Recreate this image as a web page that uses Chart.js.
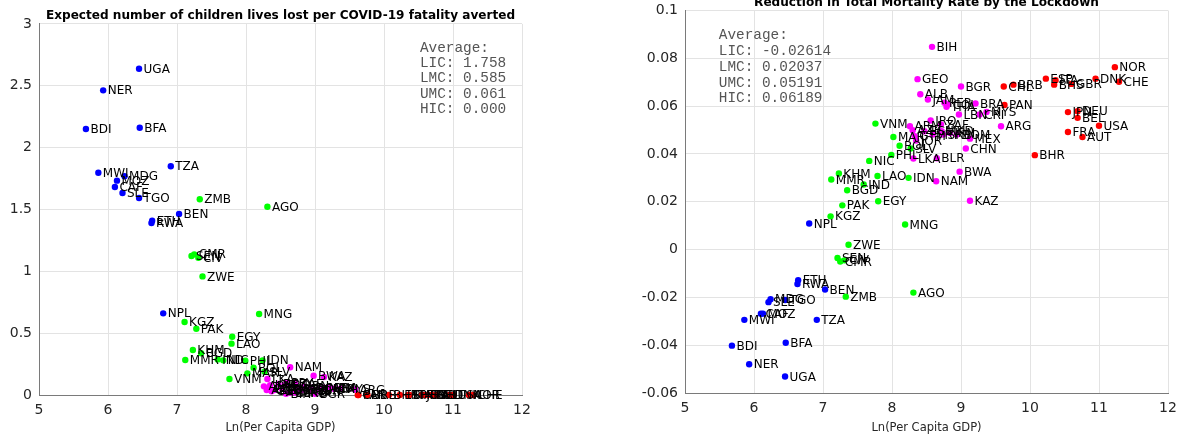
<!DOCTYPE html>
<html>
<head>
<meta charset="utf-8">
<script src="https://cdn.jsdelivr.net/npm/chart.js@4.4.1/dist/chart.umd.min.js"></script>
<style>
  body { margin: 0; background: #fff; width: 1185px; height: 436px; overflow: hidden; position: relative; }
  .panel { position: absolute; }
  #panel-hijos { left: 0; top: 0; width: 545px; height: 436px; }
  #panel-mortalidad { left: 600px; top: -5px; width: 585px; height: 441px; }
</style>
</head>
<body>
<div class="panel" id="panel-hijos"><canvas id="grafica-hijos" width="545" height="436"></canvas></div>
<div class="panel" id="panel-mortalidad"><canvas id="grafica-mortalidad" width="585" height="441"></canvas></div>
<script>
// Datos: código de país, ln(PIB per cápita),
// niños perdidos por muerte COVID evitada, reducción de mortalidad total
const licCodigos = ['UGA','NER','BDI','BFA','TZA','MWI','MDG','MOZ','CAF','SLE','TGO','BEN','ETH','RWA','NPL'];
const licPib     = [6.45, 5.93, 5.68, 6.46, 6.91, 5.86, 6.24, 6.13, 6.10, 6.21, 6.45, 7.03, 6.64, 6.63, 6.80];
const licHijos   = [2.638, 2.463, 2.150, 2.161, 1.849, 1.797, 1.768, 1.733, 1.682, 1.633, 1.593, 1.463, 1.409, 1.390, 0.660];
const licMort    = [-0.0531, -0.0480, -0.0402, -0.0390, -0.0294, -0.0294, -0.0208, -0.0268, -0.0268, -0.0220, -0.0211, -0.0167, -0.0128, -0.0144, 0.0109];

const lmcCodigos = ['AGO','ZMB','SEN','CIV','CMR','ZWE','MNG','KGZ','PAK','EGY','LAO','KHM','BGD','MMR','IND','NIC','PHL','IDN','BOL','SLV','MAR','VNM'];
const lmcPib     = [8.31, 7.33, 7.21, 7.31, 7.25, 7.37, 8.19, 7.11, 7.28, 7.80, 7.79, 7.23, 7.35, 7.12, 7.59, 7.67, 7.99, 8.24, 8.11, 8.27, 8.02, 7.76];
const lmcHijos   = [1.522, 1.582, 1.124, 1.110, 1.137, 0.959, 0.655, 0.590, 0.536, 0.471, 0.415, 0.364, 0.337, 0.283, 0.288, 0.280, 0.277, 0.280, 0.221, 0.188, 0.175, 0.129];
const lmcMort    = [-0.0180, -0.0197, -0.0035, -0.0045, -0.0050, 0.0020, 0.0105, 0.0139, 0.0185, 0.0202, 0.0308, 0.0318, 0.0248, 0.0293, 0.0272, 0.0371, 0.0396, 0.0300, 0.0434, 0.0423, 0.0471, 0.0527];

const umcCodigos = ['BIH','GEO','BGR','ALB','JAM','PER','COL','THA','BRA','MYS','CRI','LBN','IRQ','ZAF','ARG','DOM','MEX','CHN','BLR','LKA','BWA','NAM','KAZ','ARM','AZE','JOR','ECU','PRY','SRB','MKD','IRN','GTM'];
const umcPib     = [8.58, 8.37, 9.00, 8.41, 8.52, 8.76, 8.81, 8.79, 9.21, 9.37, 9.27, 8.97, 8.56, 8.71, 9.58, 8.94, 9.13, 9.07, 8.65, 8.31, 8.98, 8.64, 9.13, 8.26, 8.30, 8.35, 8.47, 8.59, 8.74, 8.72, 8.84, 8.33];
const umcHijos   = [0.010, 0.030, 0.010, 0.040, 0.050, 0.050, 0.040, 0.040, 0.060, 0.050, 0.050, 0.030, 0.080, 0.090, 0.045, 0.060, 0.060, 0.050, 0.020, 0.129, 0.156, 0.224, 0.146, 0.070, 0.040, 0.080, 0.090, 0.100, 0.030, 0.020, 0.070, 0.050];
const umcMort    = [0.0848, 0.0713, 0.0682, 0.0650, 0.0628, 0.0614, 0.0607, 0.0597, 0.0611, 0.0576, 0.0565, 0.0565, 0.0540, 0.0523, 0.0516, 0.0481, 0.0464, 0.0423, 0.0382, 0.0381, 0.0326, 0.0286, 0.0204, 0.0516, 0.0499, 0.0456, 0.0495, 0.0481, 0.0481, 0.0495, 0.0488, 0.0474];

const hicCodigos = ['CHL','BRB','PAN','BHR','ESP','ITA','BHS','GBR','DNK','NOR','CHE','JPN','DEU','BEL','USA','FRA','AUT'];
const hicPib     = [9.62, 9.76, 9.63, 10.07, 10.23, 10.37, 10.35, 10.60, 10.95, 11.23, 11.29, 10.55, 10.69, 10.69, 11.00, 10.55, 10.76];
const hicHijos   = [0, 0, 0, 0, 0, 0, 0, 0, 0, 0, 0, 0, 0, 0, 0, 0, 0];
const hicMort    = [0.0682, 0.0690, 0.0605, 0.0395, 0.0715, 0.0708, 0.0690, 0.0693, 0.0715, 0.0763, 0.0702, 0.0575, 0.0579, 0.0551, 0.0518, 0.0492, 0.0471];

const promediosHijos = ['Average:', 'LIC: 1.758', 'LMC: 0.585', 'UMC: 0.061', 'HIC: 0.000'];
const promediosMort  = ['Average:', 'LIC: -0.02614', 'LMC: 0.02037', 'UMC: 0.05191', 'HIC: 0.06189'];

const xTicks = [5, 6, 7, 8, 9, 10, 11, 12];

const grupos = [
    { codigos: licCodigos, pib: licPib, hijos: licHijos, mort: licMort, color: '#0000ff' },
    { codigos: lmcCodigos, pib: lmcPib, hijos: lmcHijos, mort: lmcMort, color: '#00ff00' },
    { codigos: umcCodigos, pib: umcPib, hijos: umcHijos, mort: umcMort, color: '#ff00ff' },
    { codigos: hicCodigos, pib: hicPib, hijos: hicHijos, mort: hicMort, color: '#ff0000' }
];

const colorTexto = '#262626';
const colorRejilla = '#e3e3e3';
const colorEje = '#7a7a7a';

// Etiquetas de país junto a cada punto
const etiquetasPais = {
    id: 'etiquetasPais',
    afterDatasetsDraw(chart) {
        const ctx = chart.ctx;
        ctx.save();
        ctx.font = '12px "DejaVu Sans"';
        ctx.fillStyle = '#000';
        ctx.textAlign = 'left';
        ctx.textBaseline = 'middle';
        chart.data.datasets.forEach((ds, i) => {
            const meta = chart.getDatasetMeta(i);
            meta.data.forEach((pt, j) => {
                ctx.fillText(ds.codigos[j], pt.x + 4.5, pt.y + 1);
            });
        });
        ctx.restore();
    }
};

// Cuadro de promedios en fuente monoespaciada
const cuadroPromedios = {
    id: 'cuadroPromedios',
    afterDraw(chart, args, opts) {
        const ctx = chart.ctx;
        const x = chart.scales.x.getPixelForValue(opts.x);
        const y = chart.scales.y.getPixelForValue(opts.y);
        ctx.save();
        ctx.font = '14.4px "Liberation Mono"';
        ctx.fillStyle = '#555';
        ctx.textAlign = 'left';
        ctx.textBaseline = 'middle';
        opts.lineas.forEach((l, i) => ctx.fillText(l, x, y + i * opts.paso));
        ctx.restore();
    }
};

function crearGrafica(idCanvas, campo, cfg) {
    const datasets = grupos.map(g => ({
        codigos: g.codigos,
        data: g.pib.map((v, i) => ({ x: v, y: g[campo][i] })),
        backgroundColor: g.color,
        borderWidth: 0,
        pointRadius: 3.2,
        pointHoverRadius: 3.2,
        clip: false
    }));

    return new Chart(document.getElementById(idCanvas), {
        type: 'scatter',
        data: { datasets },
        plugins: [etiquetasPais, cuadroPromedios],
        options: {
            responsive: false,
            animation: false,
            events: [],
            layout: { padding: { left: 0, right: cfg.padDerecha, top: 0, bottom: 0 } },
            plugins: {
                legend: { display: false },
                tooltip: { enabled: false },
                title: {
                    display: true,
                    text: cfg.titulo,
                    fullSize: false,
                    color: '#000',
                    font: { family: 'DejaVu Sans', size: 12.1, weight: 'bold' },
                    padding: { top: cfg.padTitulo, bottom: 0.6 }
                },
                cuadroPromedios: cfg.promedios
            },
            scales: {
                x: {
                    type: 'linear',
                    min: 5, max: 12,
                    afterBuildTicks: axis => { axis.ticks = xTicks.map(v => ({ value: v })); },
                    afterFit: scale => { scale.height = cfg.altoX; },
                    border: { color: colorEje, width: 1 },
                    grid: { color: colorRejilla, drawTicks: false },
                    ticks: { color: colorTexto, font: { family: 'DejaVu Sans', size: 14 }, padding: 7, maxRotation: 0 },
                    title: {
                        display: true,
                        text: 'Ln(Per Capita GDP)',
                        color: colorTexto,
                        font: { family: 'DejaVu Sans', size: 11.5 },
                        padding: { top: 0, bottom: 1.3 }
                    }
                },
                y: {
                    type: 'linear',
                    min: cfg.yMin, max: cfg.yMax,
                    afterFit: scale => { scale.width = cfg.anchoY; },
                    border: { color: colorEje, width: 1 },
                    grid: { color: colorRejilla, drawTicks: false },
                    ticks: {
                        stepSize: cfg.paso,
                        color: colorTexto,
                        font: { family: 'DejaVu Sans', size: 14 },
                        padding: 7,
                        callback: v => String(+v.toFixed(3))
                    }
                }
            }
        }
    });
}

crearGrafica('grafica-hijos', 'hijos', {
    titulo: 'Expected number of children lives lost per COVID-19 fatality averted',
    padTitulo: 8.8,
    padDerecha: 23,
    anchoY: 39,
    altoX: 41,
    yMin: 0, yMax: 3, paso: 0.5,
    promedios: { x: 10.52, y: 2.805, paso: 15.3, lineas: promediosHijos }
});

crearGrafica('grafica-mortalidad', 'mort', {
    titulo: 'Reduction in Total Mortality Rate by the Lockdown',
    padTitulo: 0.4,
    padDerecha: 17,
    anchoY: 85,
    altoX: 43,
    yMin: -0.06, yMax: 0.1, paso: 0.02,
    promedios: { x: 5.49, y: 0.0895, paso: 15.7, lineas: promediosMort }
});
</script>
</body>
</html>
